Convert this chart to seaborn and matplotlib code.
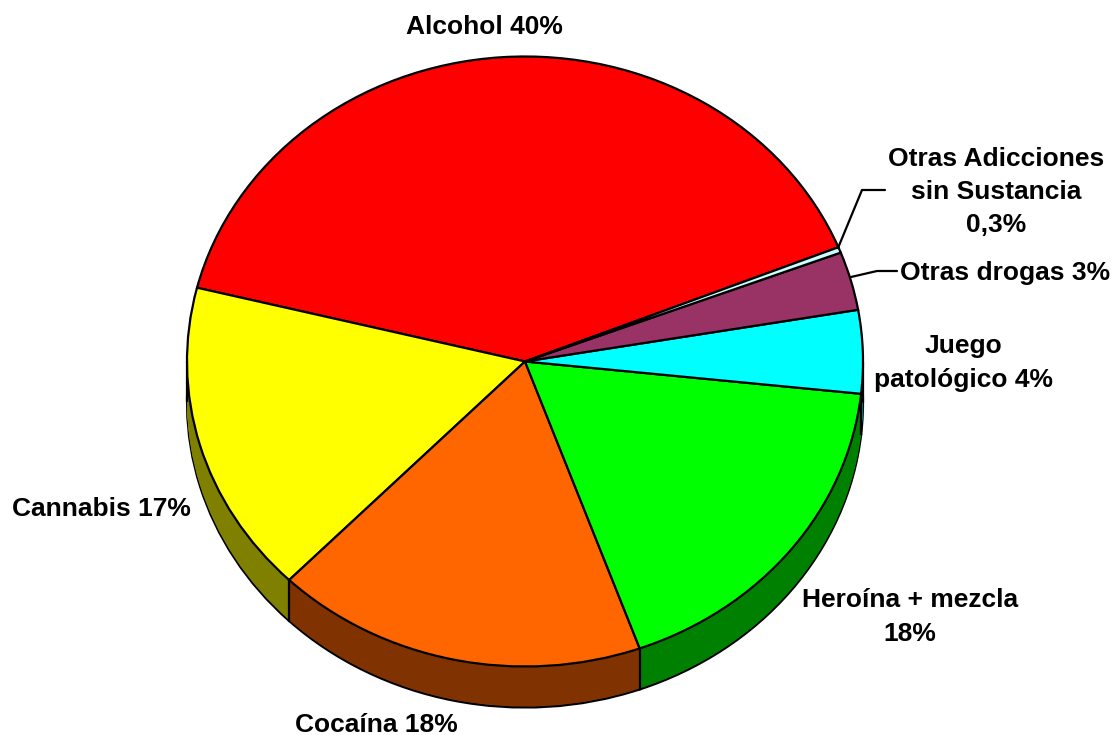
import numpy as np
import matplotlib
matplotlib.use("Agg")
import matplotlib.pyplot as plt
import seaborn as sns

# porcentajes
categorias = ["Alcohol 40%", "Cannabis 17%", "Cocaína 18%", "Heroína + mezcla\n18%",
              "Juego\npatológico 4%", "Otras drogas 3%", "Otras Adicciones\nsin Sustancia\n0,3%"]
valores = [40.0, 16.6, 17.8, 17.8, 4.4, 3.1, 0.3]
colores = ["#ff0000", "#ffff00", "#ff6600", "#00ff00", "#00ffff", "#993366", "#ccffff"]
colores_lado = ["#800000", "#808000", "#803300", "#008000", "#008080", "#4d1a33", "#668080"]

# posicion de las etiquetas en pixeles de la imagen
pos_etiquetas = [(484, 27), (101, 509), (376, 725), (910, 617), (963, 363), (1005, 273), (996, 192)]
lineas_guia = [[(838, 248), (862, 190), (885, 190)], [(851, 277), (877, 271), (897, 271)]]

W, H = 1116, 735
CX, CY, RX, RY = 525, 361.5, 338, 305
PROF = 41
INICIO = 22.0

sns.set_theme(style="white")
plt.rcParams["font.family"] = ["Liberation Sans", "DejaVu Sans"]

fig = plt.figure(figsize=(W / 100, H / 100), dpi=100)
ax = fig.add_axes([0, 0, 1, 1])


def to_xy(px, py):
    return (px - CX) / RX, (CY - py) / RY


# lado de la tarta: base con borde y capas sin borde encima
borde = dict(edgecolor="black", linewidth=1.6)
ax.pie(valores, colors=colores_lado, startangle=INICIO, center=(0, -PROF / RY), wedgeprops=borde)
for d in range(PROF - 1, 0, -1):
    ax.pie(valores, colors=colores_lado, startangle=INICIO, center=(0, -d / RY),
           wedgeprops=dict(linewidth=0))

# aristas verticales: limites de sector visibles y contorno a izquierda y derecha
angulos = INICIO + np.cumsum(valores) / sum(valores) * 360
visibles = [a for a in angulos if 180 < a % 360 < 360] + [180, 360]
for a in visibles:
    x = np.cos(np.radians(a))
    y = np.sin(np.radians(a))
    ax.plot([x, x], [y, y - PROF / RY], color="black", lw=1.6, zorder=5, solid_capstyle="butt")

# cara superior
wedges, _ = ax.pie(valores, colors=colores, startangle=INICIO, wedgeprops=borde)
for w in wedges:
    w.set_zorder(6)

for nombre, (px, py) in zip(categorias, pos_etiquetas):
    x, y = to_xy(px, py)
    ax.text(x, y, nombre, ha="center", va="center", fontsize=19, fontweight="bold",
            color="black", linespacing=1.5, zorder=8)

for linea in lineas_guia:
    xy = np.array([to_xy(*p) for p in linea])
    ax.plot(xy[:, 0], xy[:, 1], color="black", lw=1.6, zorder=7)

# la elipse sale de escalas distintas en x e y
ax.set_aspect("auto")
ax.set_xlim(to_xy(0, 0)[0], to_xy(W, 0)[0])
ax.set_ylim(to_xy(0, H)[1], to_xy(0, 0)[1])
ax.axis("off")

fig.savefig("out.png", dpi=100, facecolor="white")
